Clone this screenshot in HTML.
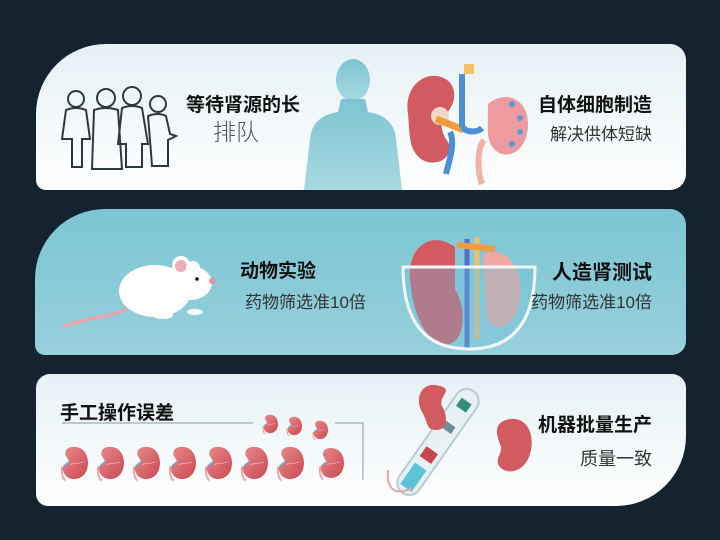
<!DOCTYPE html>
<html><head><meta charset="utf-8"><style>
html,body{margin:0;padding:0;width:720px;height:540px;overflow:hidden;background:#14232f;}
body{position:relative;font-family:"Liberation Sans","Noto Sans CJK SC",sans-serif;}
.p{position:absolute;left:36px;width:650px;overflow:hidden;}
.t{position:absolute;white-space:nowrap;color:#111;}
.b{font-weight:bold;font-size:19px;}
.s{font-size:17px;color:#333;}
</style></head><body>
<svg width="0" height="0" style="position:absolute">
<defs>
<linearGradient id="kg" x1="0" y1="0" x2="1" y2="1"><stop offset="0" stop-color="#e88a8e"/><stop offset="1" stop-color="#c9484f"/></linearGradient>
<symbol id="k" viewBox="0 0 40 50"><path d="M3 30 C2 40 4 48 8 50" stroke="#e7a8a8" stroke-width="3" fill="none"/><path d="M20 2 C34 2 40 14 40 25 C40 38 32 48 20 48 C10 48 4 40 4 32 C4 28 10 26 12 24 C14 22 10 18 8 14 C6 6 12 2 20 2 Z" fill="url(#kg)"/><path d="M6 30 C8 26 12 25 13 23" stroke="#6aa6dd" stroke-width="2.5" fill="none"/><path d="M14 27 L34 24" stroke="#f2c0c0" stroke-width="1"/></symbol>
</defs></svg>

<!-- Panel 1 -->
<div class="p" style="top:44px;height:146px;border-radius:70px 16px 16px 10px;background:linear-gradient(180deg,#e6f1f5,#ffffff);">
<svg width="650" height="146" style="position:absolute;left:0;top:0">
 <g stroke="#2c3a40" stroke-width="2" fill="none">
  <circle cx="40" cy="55" r="8"/><path d="M30 66 Q40 62 50 66 L54 95 L46 95 L46 123 L36 123 L36 95 L26 95 Z"/>
  <circle cx="70" cy="54" r="9"/><path d="M58 66 Q70 62 82 66 L86 125 L56 125 Z"/>
  <circle cx="96" cy="52" r="9"/><path d="M86 64 Q96 60 106 64 L112 100 L106 100 L106 123 L90 123 L90 100 L82 100 Z"/>
  <circle cx="122" cy="60" r="8"/><path d="M112 72 Q122 68 130 72 L134 90 L140 92 L132 96 L132 122 L116 122 L114 96 Z"/>
 </g>
 <defs><linearGradient id="sil" x1="0" y1="0" x2="0" y2="1"><stop offset="0" stop-color="#7cc5d2"/><stop offset="1" stop-color="#a8d8e0"/></linearGradient></defs>
 <ellipse cx="317" cy="36" rx="17" ry="21" fill="url(#sil)"/>
 <path d="M305 55 L329 55 L332 68 Q358 72 360 95 L366 146 L268 146 L274 95 Q276 72 302 68 Z" fill="url(#sil)"/>
 <path d="M372 70 C368 45 385 30 400 32 C420 34 424 55 410 70 C402 78 406 90 412 98 C420 112 400 125 385 115 C372 105 374 90 372 70 Z" fill="#d25a62"/>
 <circle cx="404" cy="72" r="9" fill="#f0d8c8"/>
 <path d="M400 75 L428 86" stroke="#f39a3c" stroke-width="7"/>
 <path d="M414 88 C420 100 412 120 410 130" stroke="#4b8fd4" stroke-width="6" fill="none"/>
 <path d="M426 30 L426 80 C426 88 440 90 446 84" stroke="#4b8fd4" stroke-width="6" fill="none"/>
 <rect x="428" y="20" width="10" height="10" fill="#f2c36a"/>
 <path d="M452 60 C470 45 492 55 492 80 C492 108 470 118 458 105 C450 96 452 86 452 60 Z" fill="#ef9a9e"/>
 <path d="M448 96 C440 106 442 130 446 140" stroke="#f1b2a6" stroke-width="6" fill="none"/>
 <g fill="#5b9bd8"><circle cx="476" cy="60" r="3"/><circle cx="484" cy="74" r="3"/><circle cx="484" cy="88" r="3"/><circle cx="476" cy="100" r="3"/></g>
</svg>
<div class="t b" style="left:150px;top:46px">等待肾源的长</div>
<div class="t" style="left:177px;top:69px;font-size:23px;color:#3f5866;font-weight:300">排队</div>
<div class="t b" style="right:34px;top:46px">自体细胞制造</div>
<div class="t s" style="right:34px;top:76px">解决供体短缺</div>
</div>

<!-- Panel 2 -->
<div class="p" style="top:209px;height:146px;left:35px;width:651px;border-radius:70px 16px 14px 10px;background:linear-gradient(180deg,#7cc5d3,#97d0dc);">
<svg width="651" height="146" style="position:absolute;left:0;top:0">
 <path d="M92 100 C70 110 50 108 28 118" stroke="#f0a0a8" stroke-width="3" fill="none"/>
 <ellipse cx="120" cy="82" rx="36" ry="26" fill="#fff"/>
 <ellipse cx="155" cy="74" rx="22" ry="17" fill="#fff"/>
 <circle cx="146" cy="56" r="9" fill="#fff"/><circle cx="146" cy="57" r="6" fill="#f3aab8"/>
 <circle cx="158" cy="59" r="7" fill="#fff"/>
 <circle cx="177" cy="72" r="3" fill="#f28aa0"/><circle cx="162" cy="70" r="1.8" fill="#111"/>
 <ellipse cx="128" cy="106" rx="10" ry="4" fill="#fff"/><ellipse cx="160" cy="103" rx="8" ry="3" fill="#fff"/>
 <path d="M420 38 C395 20 372 40 375 70 C378 110 395 140 415 135 C430 130 432 100 420 80 Z" fill="#d45a62"/>
 <path d="M448 45 C470 35 490 60 485 90 C480 120 460 125 452 110 Z" fill="#f0a8a0"/>
 <path d="M432 30 L432 140" stroke="#5070c8" stroke-width="5"/>
 <path d="M442 28 L442 130" stroke="#e9c070" stroke-width="5"/>
 <path d="M422 36 L460 40" stroke="#f39a3c" stroke-width="6"/>
 <path d="M368 58 L500 58 Q500 140 434 140 Q368 140 368 58 Z" fill="rgba(110,190,220,0.35)" stroke="#f2f8fa" stroke-width="3"/>
</svg>
<div class="t b" style="left:205px;top:47px">动物实验</div>
<div class="t s" style="left:210px;top:79px">药物筛选准10倍</div>
<div class="t b" style="right:34px;top:47px;font-size:20px">人造肾测试</div>
<div class="t s" style="right:34px;top:79px">药物筛选准10倍</div>
</div>

<!-- Panel 3 -->
<div class="p" style="top:374px;height:132px;border-radius:14px 14px 70px 12px;background:linear-gradient(180deg,#e6f1f5,#ffffff);">
<svg width="650" height="132" style="position:absolute;left:0;top:0">
 <path d="M26 49 L217 49" stroke="#8a9aa2" stroke-width="1"/>
 <path d="M299 49 L327 49 L327 106" stroke="#8a9aa2" stroke-width="1" fill="none"/>
 <use href="#k" x="24" y="66" width="28" height="46"/>
 <use href="#k" x="60" y="66" width="28" height="46"/>
 <use href="#k" x="96" y="66" width="28" height="46"/>
 <use href="#k" x="132" y="66" width="28" height="46"/>
 <use href="#k" x="168" y="66" width="28" height="46"/>
 <use href="#k" x="204" y="66" width="28" height="46"/>
 <use href="#k" x="240" y="66" width="28" height="46"/>
 <use href="#k" x="282" y="68" width="26" height="42"/>
 <use href="#k" x="226" y="38" width="16" height="24"/>
 <use href="#k" x="250" y="40" width="16" height="24"/>
 <use href="#k" x="276" y="44" width="16" height="24"/>
 <g transform="rotate(35 402 68)">
  <rect x="390" y="6" width="24" height="124" rx="12" fill="#e8f1f4" stroke="#b8ccd3" stroke-width="2"/>
  <rect x="395" y="98" width="14" height="26" fill="#5bc3d6"/>
  <rect x="395" y="78" width="14" height="12" fill="#c9474e"/>
  <rect x="396" y="46" width="12" height="8" fill="#6c8f96"/>
  <rect x="396" y="18" width="12" height="10" fill="#2f8f7a"/>
 </g>
 <path d="M352 96 C350 116 360 122 376 114" stroke="#e0a8a8" stroke-width="2" fill="none"/>
 <path d="M404 12 C386 6 378 24 386 38 C392 48 390 56 400 56 C412 56 412 42 406 32 C402 22 418 16 404 12 Z" fill="#d45a62"/>
 <path d="M470 46 C490 40 500 60 494 80 C488 100 468 102 462 90 C460 82 468 78 464 70 C460 60 458 50 470 46 Z" fill="#d45a62"/>
</svg>
<div class="t b" style="left:24px;top:24px">手工操作误差</div>
<div class="t b" style="right:34px;top:36px">机器批量生产</div>
<div class="t s" style="right:34px;top:71px;font-size:18px">质量一致</div>
</div>
</body></html>
